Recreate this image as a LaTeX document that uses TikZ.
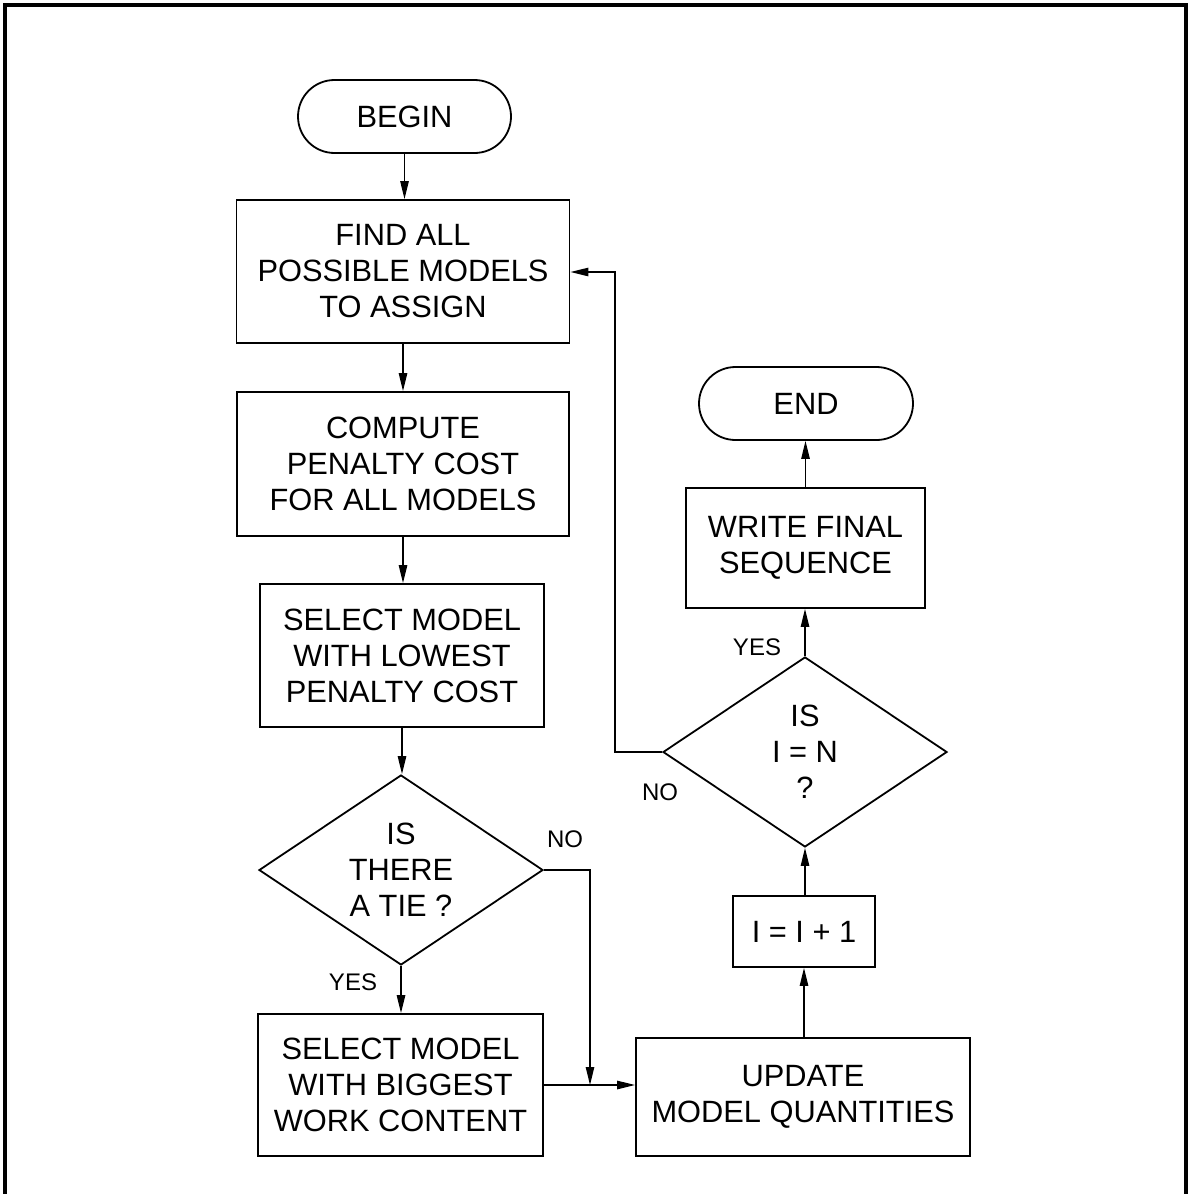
\documentclass[tikz,border=0pt]{standalone}
\usepackage{fontspec}
\setmainfont{Liberation Sans}
\usetikzlibrary{shapes.geometric,shapes.misc,arrows.meta}

\begin{document}
\begin{tikzpicture}[x=0.5pt,y=-0.5pt,
  boxtext/.style={font=\fontsize{15.4}{18}\selectfont, align=center},
  procbox/.style={draw, rectangle, line width=0.9pt, inner sep=0pt, boxtext},
  termbox/.style={draw, rounded rectangle, line width=0.9pt, inner sep=0pt, boxtext},
  decbox/.style={draw, diamond, aspect=1.5, line width=0.9pt, inner sep=0pt,
                 minimum width=142pt, minimum height=95pt, boxtext},
  lbl/.style={font=\fontsize{12}{14}\selectfont, inner sep=0pt},
  flow/.style={line width=0.7pt, -{Triangle[length=9pt,width=4.2pt]}},
  plain/.style={line width=0.7pt}]

\useasboundingbox (0,0) rectangle (1190,1194);

% page frame, open at the bottom
\draw[line width=1.8pt] (5,1194) -- (5,5) -- (1186,5) -- (1186,1194);

% left column
\node[termbox, minimum width=106.5pt, minimum height=36.5pt] (begin) at (404.5,116.5) {BEGIN};
\node[procbox, minimum width=166.5pt, minimum height=71.5pt] (find) at (403,271.5)
  {FIND ALL\\POSSIBLE MODELS\\TO ASSIGN};
\node[procbox, minimum width=166pt, minimum height=72pt] (comp) at (403,464)
  {COMPUTE\\PENALTY COST\\FOR ALL MODELS};
\node[procbox, minimum width=142pt, minimum height=71.5pt] (low) at (402,655.5)
  {SELECT MODEL\\WITH LOWEST\\PENALTY COST};
\node[decbox] (tie) at (401,870) {IS\\THERE\\A TIE ?};
\node[procbox, minimum width=142.5pt, minimum height=71pt] (big) at (400.5,1085)
  {SELECT MODEL\\WITH BIGGEST\\WORK CONTENT};

% right column
\node[procbox, minimum width=167pt, minimum height=59pt] (upd) at (803,1097)
  {UPDATE\\MODEL QUANTITIES};
\node[procbox, minimum width=71pt, minimum height=35.5pt] (inc) at (804,931.5)
  {I = I + 1};
\node[decbox] (eqn) at (805,752) {IS\\I = N\\?};
\node[procbox, minimum width=119.5pt, minimum height=60pt] (wfin) at (805.5,548)
  {WRITE FINAL\\SEQUENCE};
\node[termbox, minimum width=107pt, minimum height=36.5pt] (end) at (806,403.5) {END};

% auxiliary corner points
\coordinate (nojoin) at (590,1085);
\coordinate (loop) at (615,272);

% main sequence
\draw[flow] (begin.south) -- (begin.south |- find.north);
\draw[flow] (find.south) -- (find.south |- comp.north);
\draw[flow] (comp.south) -- (comp.south |- low.north);
\draw[flow] (low.south) -- (low.south |- tie.north);
\draw[flow] (tie.south) -- (tie.south |- big.north);
\draw[flow] (tie.east) -| (nojoin);
\draw[flow] (big.east |- nojoin) -- (upd.west |- nojoin);
\draw[flow] (inc.south |- upd.north) -- (inc.south);
\draw[flow] (inc.north) -- (inc.north -| eqn.south) -- (eqn.south);
\draw[flow] (eqn.north) -- (eqn.north |- wfin.south);
\draw[flow] (wfin.north) -- (wfin.north |- end.south);
\draw[flow] (eqn.west) -| (loop) -- (loop -| find.east);

% branch labels
\node[lbl] (tieno) at (565,839) {NO};
\node[lbl] (tieyes) at (353,982) {YES};
\node[lbl] (eqno) at (660,792) {NO};
\node[lbl] (eqyes) at (757,647) {YES};

\end{tikzpicture}
\end{document}
